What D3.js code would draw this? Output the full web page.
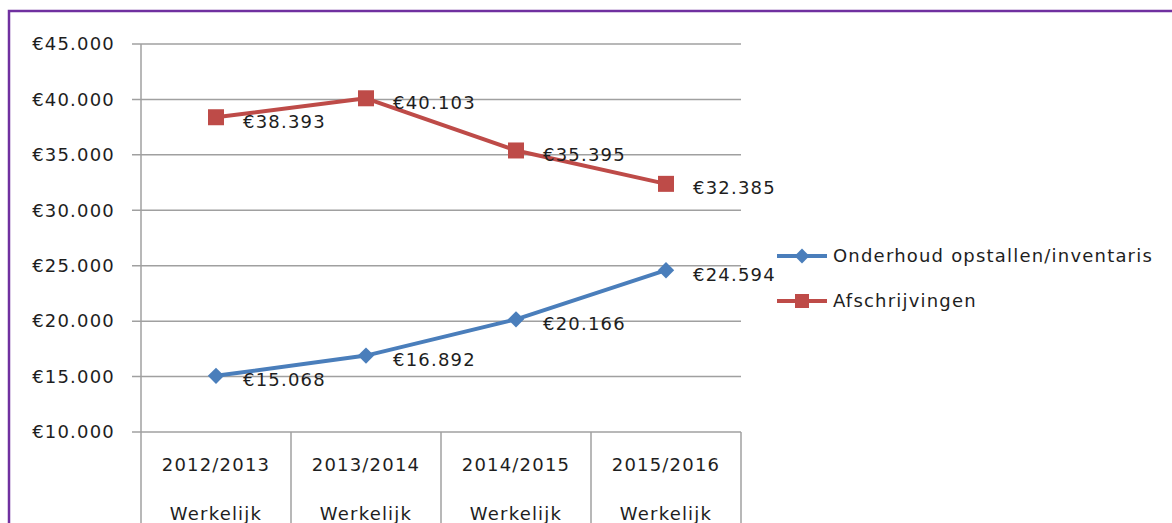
<!DOCTYPE html>
<html><head><meta charset="utf-8">
<script src="https://cdn.jsdelivr.net/npm/d3@7"></script>
<style>body{margin:0;background:#fff;} svg{display:block;}</style>
</head><body>
<svg id="c" width="1172" height="523"></svg>
<script>
const categories = ["2012/2013", "2013/2014", "2014/2015", "2015/2016"];
const subLabel = "Werkelijk";
const seriesNames = ["Onderhoud opstallen/inventaris", "Afschrijvingen"];
const onderhoud = [15068, 16892, 20166, 24594];
const afschrijvingen = [38393, 40103, 35395, 32385];
const yTicks = [10000, 15000, 20000, 25000, 30000, 35000, 40000, 45000];
const colors = ["#4a7ebb", "#be4b48"];

const svg = d3.select("#c");
const font = "DejaVu Sans";
const fs = 18, ls = 1.2;
const fmt = v => "€" + d3.format(",")(v).replace(/,/g, ".");
const txt = sel => sel.attr("font-family", font).attr("font-size", fs)
  .attr("letter-spacing", ls).attr("fill", "#1e1e1e");

// purple frame
svg.append("rect").attr("x", 9).attr("y", 11).attr("width", 1200).attr("height", 600)
  .attr("fill", "none").attr("stroke", "#7030a0").attr("stroke-width", 2.5);

const x = d3.scaleBand().domain(categories).range([141, 741]);
const y = d3.scaleLinear().domain([10000, 45000]).range([432, 44]);

// gridlines
svg.append("g").selectAll("line").data(yTicks).join("line")
  .attr("x1", 132).attr("x2", 741).attr("y1", d => y(d)).attr("y2", d => y(d))
  .attr("stroke", "#a0a0a0").attr("stroke-width", 1.5);

// y axis line
svg.append("line").attr("x1", 141).attr("x2", 141).attr("y1", y(45000)).attr("y2", 523)
  .attr("stroke", "#a0a0a0").attr("stroke-width", 1.5);

// category dividers
const edges = categories.map(c => x(c)).concat([x.range()[1]]);
svg.append("g").selectAll("line").data(edges.slice(1)).join("line")
  .attr("x1", d => d).attr("x2", d => d).attr("y1", y(10000)).attr("y2", 523)
  .attr("stroke", "#a0a0a0").attr("stroke-width", 1.5);

// y tick labels
svg.append("g").selectAll("text").data(yTicks).join("text")
  .attr("x", 115).attr("y", d => y(d)).attr("dy", "0.35em")
  .attr("text-anchor", "end").call(txt).text(fmt);

// category labels
const cat = svg.append("g").selectAll("g").data(categories).join("g");
cat.append("text").attr("x", d => x(d) + x.bandwidth() / 2).attr("y", 465).attr("dy", "0.35em")
  .attr("text-anchor", "middle").call(txt).text(d => d);
cat.append("text").attr("x", d => x(d) + x.bandwidth() / 2).attr("y", 514).attr("dy", "0.35em")
  .attr("text-anchor", "middle").call(txt).text(subLabel);

const cx = c => x(c) + x.bandwidth() / 2;
const line = d3.line().x((d, i) => cx(categories[i])).y(d => y(d));

const series = [onderhoud, afschrijvingen];
series.forEach((vals, si) => {
  svg.append("path").datum(vals).attr("d", line).attr("fill", "none")
    .attr("stroke", colors[si]).attr("stroke-width", 4).attr("stroke-linejoin", "round");
  const g = svg.append("g");
  vals.forEach((v, i) => {
    const px = cx(categories[i]), py = y(v);
    if (si === 0) {
      g.append("path").attr("d", d3.symbol(d3.symbolDiamond2, 170)())
        .attr("transform", `translate(${px},${py})`).attr("fill", colors[si]);
    } else {
      g.append("rect").attr("x", px - 8).attr("y", py - 8).attr("width", 16).attr("height", 16)
        .attr("fill", colors[si]);
    }
    g.append("text").attr("x", px + 27).attr("y", py + 4).attr("dy", "0.35em")
      .call(txt).text(fmt(v));
  });
});

// legend
const legY = [256, 301];
seriesNames.forEach((n, i) => {
  const g = svg.append("g");
  g.append("line").attr("x1", 777).attr("x2", 827).attr("y1", legY[i]).attr("y2", legY[i])
    .attr("stroke", colors[i]).attr("stroke-width", 4);
  if (i === 0) {
    g.append("path").attr("d", d3.symbol(d3.symbolDiamond2, 140)())
      .attr("transform", `translate(802,${legY[i]})`).attr("fill", colors[i]);
  } else {
    g.append("rect").attr("x", 795).attr("y", legY[i] - 7).attr("width", 14).attr("height", 14)
      .attr("fill", colors[i]);
  }
  g.append("text").attr("x", 833).attr("y", legY[i]).attr("dy", "0.35em")
    .call(txt).text(n);
});
</script>
</body></html>
